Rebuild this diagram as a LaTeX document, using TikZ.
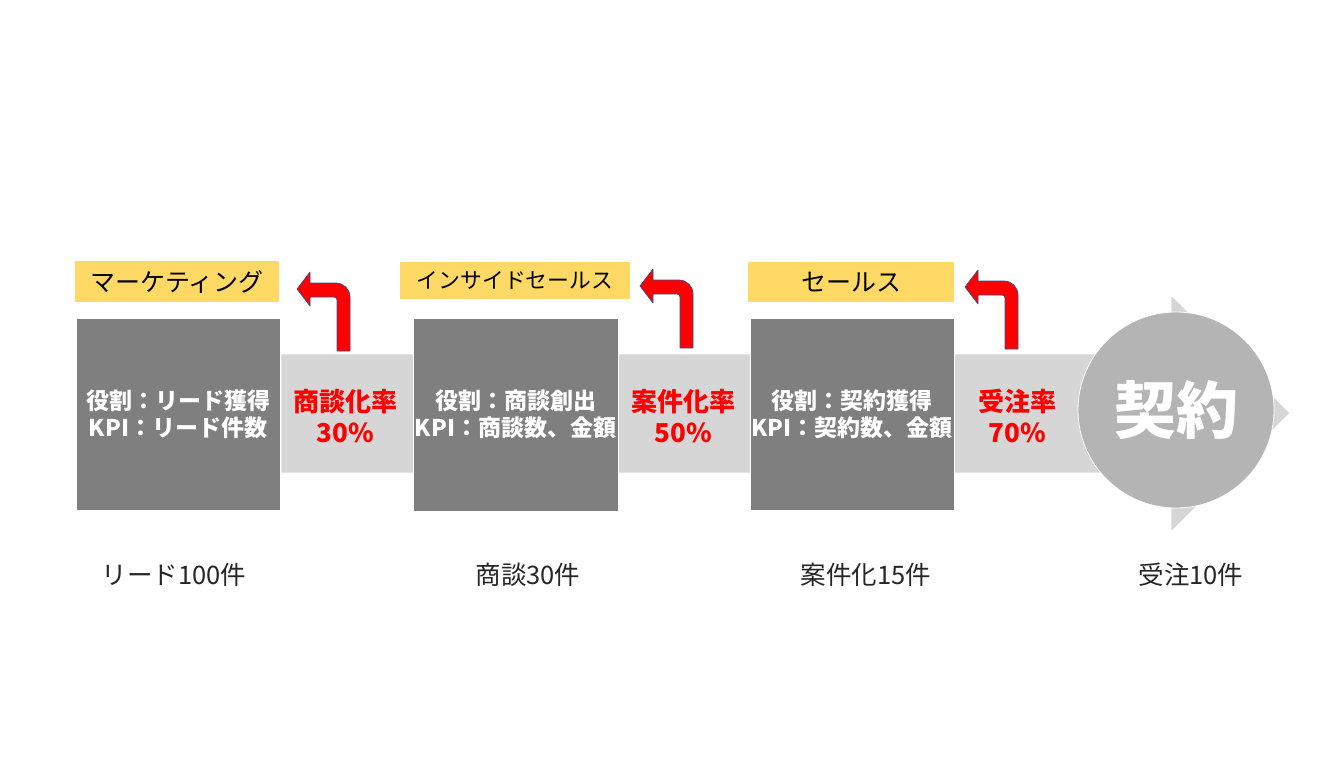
\documentclass[tikz,border=0pt]{standalone}
\usepackage{fontspec}
\setmainfont{Noto Sans CJK JP}
\definecolor{dkbox}{RGB}{127,127,127}
\definecolor{ltband}{RGB}{214,214,214}
\definecolor{circ}{RGB}{180,180,180}
\definecolor{ylw}{RGB}{255,217,102}
\definecolor{arrred}{RGB}{255,0,0}
\definecolor{arrline}{RGB}{47,82,143}
\tikzset{
  darkbox/.style={rectangle, fill=dkbox, draw=white, line width=0.8pt, inner sep=0pt,
    text=white, align=center, font=\bfseries\fontsize{23}{27}\selectfont},
  ratelbl/.style={inner sep=0pt, text=arrred, align=center,
    font=\bfseries\fontsize{26}{31}\selectfont},
  rolelbl/.style={rectangle, fill=ylw, inner sep=0pt, text=black,
    font=\fontsize{25}{28}\selectfont},
  countlbl/.style={inner sep=0pt, text=black!85, font=\fontsize{25.5}{28}\selectfont},
  bandshape/.style={fill=ltband, draw=white, line width=0.8pt},
  bentarr/.pic={
    \draw[fill=arrred, draw=arrline, line width=0.7pt, line join=round]
      (-13,0) -- (-13,-51) arc[start angle=0, end angle=-90, radius=3]
      -- (-40,-54) -- (-40,-45) -- (-53,-62) -- (-40,-79) -- (-40,-68)
      -- (-14,-68) arc[start angle=-90, end angle=0, radius=14]
      -- (0,0) -- cycle;
  }
}
\begin{document}
\begin{tikzpicture}[x=1pt, y=-1pt]
\useasboundingbox (0,0) rectangle (1344,768);
% band arrow
\draw[bandshape] (281,354) -- (1171,354) -- (1171,295) -- (1290,413)
  -- (1171,532) -- (1171,473) -- (281,473) -- cycle;
% goal circle
\node[circle, fill=circ, draw=white, line width=0.8pt, minimum size=196pt, inner sep=0pt,
  text=white, font=\bfseries\fontsize{62}{64}\selectfont] (goal) at (1176,410) {契約};
% stage boxes
\node[darkbox, minimum width=204pt, minimum height=192pt] (b1) at (178,414)
  {役割：リード獲得\\KPI：リード件数};
\node[darkbox, minimum width=205pt, minimum height=193pt] (b2) at (515.5,414.5)
  {役割：商談創出\\KPI：商談数、金額};
\node[darkbox, minimum width=204pt, minimum height=192pt] (b3) at (852,414)
  {役割：契約獲得\\KPI：契約数、金額};
% rates
\node[ratelbl] (r1) at (345,416) {商談化率\\30\%};
\node[ratelbl] (r2) at (683,416) {案件化率\\50\%};
\node[ratelbl] (r3) at (1017,416) {受注率\\70\%};
% role labels
\node[rolelbl, minimum width=204pt, minimum height=41pt] (y1) at (177,281.5) {マーケティング};
\node[rolelbl, minimum width=230pt, minimum height=37pt, font=\fontsize{21.8}{24}\selectfont] (y2) at (515,280.5) {インサイドセールス};
\node[rolelbl, minimum width=206pt, minimum height=40pt] (y3) at (851,282) {セールス};
% bent arrows
\pic at (350,351) {bentarr};
\pic at (693,348) {bentarr};
\pic at (1018,349) {bentarr};
% counts
\node[countlbl] (c1) at (174,575) {リード100件};
\node[countlbl] (c2) at (528,575) {商談30件};
\node[countlbl] (c3) at (866,575) {案件化15件};
\node[countlbl] (c4) at (1191,575) {受注10件};
\end{tikzpicture}
\end{document}
